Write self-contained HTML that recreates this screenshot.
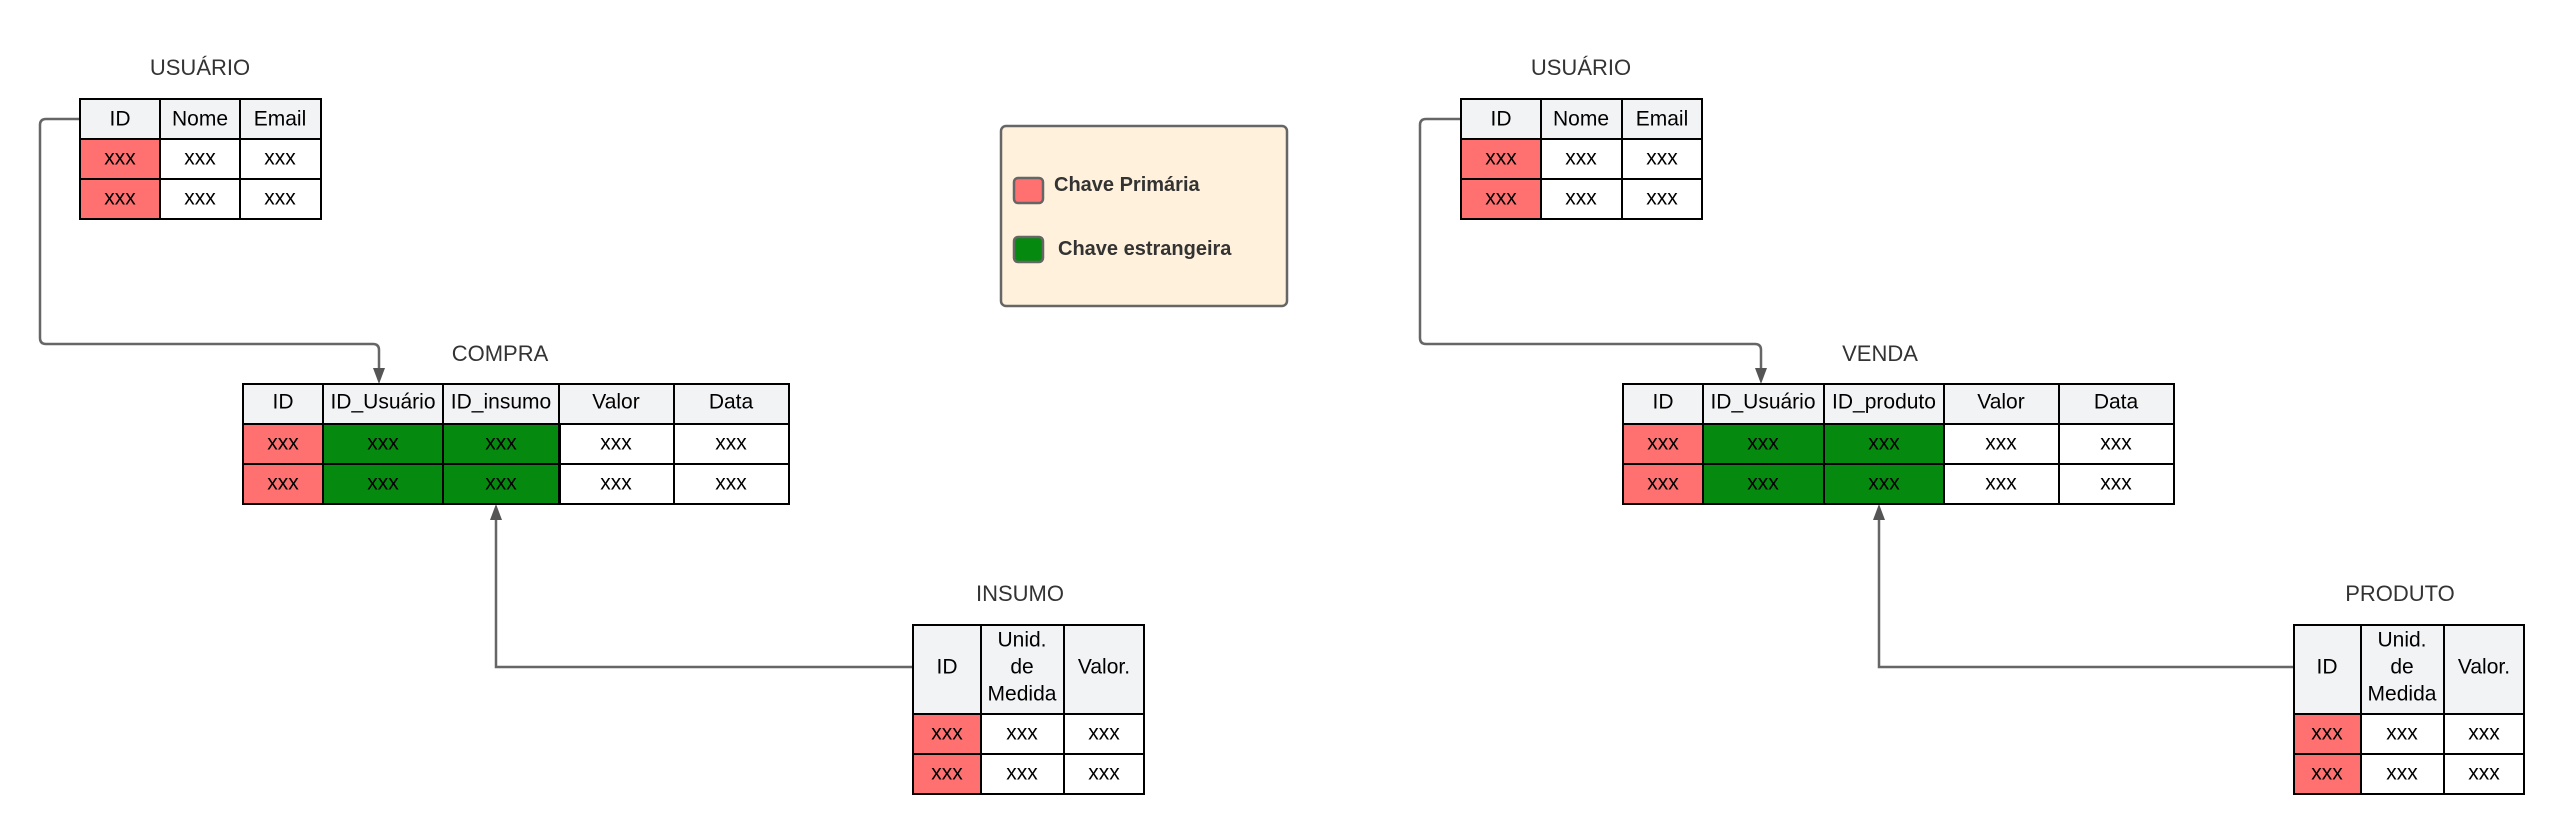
<!DOCTYPE html>
<html><head><meta charset="utf-8"><style>
html,body{margin:0;padding:0;background:#fff;}
svg{display:block;}
text{font-family:"Liberation Sans",Arial,sans-serif;}
</style></head><body>
<svg width="2565" height="835" viewBox="0 0 2565 835" xmlns="http://www.w3.org/2000/svg">
<g fill="none" stroke="#666" stroke-width="2.5">
<path d="M80 119 H46 Q40 119 40 125 V338 Q40 344 46 344 H373 Q379 344 379 350 V370"/>
<path d="M913 667 H496 V518"/>
<path d="M1461 119 H1426 Q1420 119 1420 125 V338 Q1420 344 1426 344 H1755 Q1761 344 1761 350 V370"/>
<path d="M2294 667 H1879 V518"/>
</g>
<g fill="#555">
<polygon points="373,368 385,368 379,384"/>
<polygon points="490,520 502,520 496,504"/>
<polygon points="1755,368 1767,368 1761,384"/>
<polygon points="1873,520 1885,520 1879,504"/>
</g>

<g font-size="22" fill="#333" text-anchor="middle">
<text x="200" y="75">USUÁRIO</text>
<text x="500" y="361">COMPRA</text>
<text x="1020" y="601">INSUMO</text>
<text x="1581" y="75">USUÁRIO</text>
<text x="1880" y="361">VENDA</text>
<text x="2400" y="601">PRODUTO</text>
</g>

<g stroke="#000" stroke-width="2" font-size="21" text-anchor="middle" dominant-baseline="central">
<rect x="80" y="99" width="241" height="40" fill="#f2f3f5"/>
<rect x="80" y="139" width="80" height="80" fill="#ff7070"/>
<rect x="160" y="139" width="161" height="80" fill="#fff"/>
<path d="M160 99V219M240 99V219M80 179H321" fill="none"/>
<rect x="80" y="99" width="241" height="120" fill="none"/>

<rect x="243" y="384" width="546" height="40" fill="#f2f3f5"/>
<rect x="243" y="424" width="80" height="80" fill="#ff7070"/>
<rect x="323" y="424" width="237" height="80" fill="#058a0f"/>
<rect x="560" y="424" width="229" height="80" fill="#fff"/>
<path d="M323 384V504M443 384V504M559 384V504M674 384V504M243 464H789" fill="none"/>
<rect x="243" y="384" width="546" height="120" fill="none"/>

<rect x="913" y="625" width="231" height="89" fill="#f2f3f5"/>
<rect x="913" y="714" width="68" height="80" fill="#ff7070"/>
<rect x="981" y="714" width="163" height="80" fill="#fff"/>
<path d="M981 625V794M1064 625V794M913 754H1144" fill="none"/>
<rect x="913" y="625" width="231" height="169" fill="none"/>

<rect x="1461" y="99" width="241" height="40" fill="#f2f3f5"/>
<rect x="1461" y="139" width="80" height="80" fill="#ff7070"/>
<rect x="1541" y="139" width="161" height="80" fill="#fff"/>
<path d="M1541 99V219M1622 99V219M1461 179H1702" fill="none"/>
<rect x="1461" y="99" width="241" height="120" fill="none"/>

<rect x="1623" y="384" width="551" height="40" fill="#f2f3f5"/>
<rect x="1623" y="424" width="80" height="80" fill="#ff7070"/>
<rect x="1703" y="424" width="241" height="80" fill="#058a0f"/>
<rect x="1944" y="424" width="230" height="80" fill="#fff"/>
<path d="M1703 384V504M1824 384V504M1944 384V504M2059 384V504M1623 464H2174" fill="none"/>
<rect x="1623" y="384" width="551" height="120" fill="none"/>

<rect x="2294" y="625" width="230" height="89" fill="#f2f3f5"/>
<rect x="2294" y="714" width="67" height="80" fill="#ff7070"/>
<rect x="2361" y="714" width="163" height="80" fill="#fff"/>
<path d="M2361 625V794M2444 625V794M2294 754H2524" fill="none"/>
<rect x="2294" y="625" width="230" height="169" fill="none"/>
</g>

<g font-size="21" fill="#000" text-anchor="middle" dominant-baseline="central">
<text x="120" y="119">ID</text><text x="200" y="119">Nome</text><text x="280" y="119">Email</text>
<text x="120" y="158">xxx</text><text x="200" y="158">xxx</text><text x="280" y="158">xxx</text>
<text x="120" y="198">xxx</text><text x="200" y="198">xxx</text><text x="280" y="198">xxx</text>

<text x="283" y="402">ID</text><text x="383" y="402">ID_Usuário</text><text x="501" y="402">ID_insumo</text><text x="616" y="402">Valor</text><text x="731" y="402">Data</text>
<text x="283" y="443">xxx</text><text x="383" y="443">xxx</text><text x="501" y="443">xxx</text><text x="616" y="443">xxx</text><text x="731" y="443">xxx</text>
<text x="283" y="483">xxx</text><text x="383" y="483">xxx</text><text x="501" y="483">xxx</text><text x="616" y="483">xxx</text><text x="731" y="483">xxx</text>

<text x="947" y="667">ID</text>
<text x="1022" y="640">Unid.</text><text x="1022" y="667">de</text><text x="1022" y="694">Medida</text>
<text x="1104" y="667">Valor.</text>
<text x="947" y="733">xxx</text><text x="1022" y="733">xxx</text><text x="1104" y="733">xxx</text>
<text x="947" y="773">xxx</text><text x="1022" y="773">xxx</text><text x="1104" y="773">xxx</text>

<text x="1501" y="119">ID</text><text x="1581" y="119">Nome</text><text x="1662" y="119">Email</text>
<text x="1501" y="158">xxx</text><text x="1581" y="158">xxx</text><text x="1662" y="158">xxx</text>
<text x="1501" y="198">xxx</text><text x="1581" y="198">xxx</text><text x="1662" y="198">xxx</text>

<text x="1663" y="402">ID</text><text x="1763" y="402">ID_Usuário</text><text x="1884" y="402">ID_produto</text><text x="2001" y="402">Valor</text><text x="2116" y="402">Data</text>
<text x="1663" y="443">xxx</text><text x="1763" y="443">xxx</text><text x="1884" y="443">xxx</text><text x="2001" y="443">xxx</text><text x="2116" y="443">xxx</text>
<text x="1663" y="483">xxx</text><text x="1763" y="483">xxx</text><text x="1884" y="483">xxx</text><text x="2001" y="483">xxx</text><text x="2116" y="483">xxx</text>

<text x="2327" y="667">ID</text>
<text x="2402" y="640">Unid.</text><text x="2402" y="667">de</text><text x="2402" y="694">Medida</text>
<text x="2484" y="667">Valor.</text>
<text x="2327" y="733">xxx</text><text x="2402" y="733">xxx</text><text x="2484" y="733">xxx</text>
<text x="2327" y="773">xxx</text><text x="2402" y="773">xxx</text><text x="2484" y="773">xxx</text>
</g>

<rect x="1001" y="126" width="286" height="180" rx="5" fill="#fff1db" stroke="#666" stroke-width="2.5"/>
<rect x="1014" y="178" width="29" height="25" rx="4" fill="#ff7070" stroke="#666" stroke-width="2.5"/>
<rect x="1014" y="237" width="29" height="25" rx="4" fill="#058a0f" stroke="#666" stroke-width="2.5"/>
<g font-size="20" font-weight="bold" fill="#333" dominant-baseline="central">
<text x="1054" y="185">Chave Primária</text>
<text x="1058" y="249">Chave estrangeira</text>
</g>
</svg>
</body></html>
